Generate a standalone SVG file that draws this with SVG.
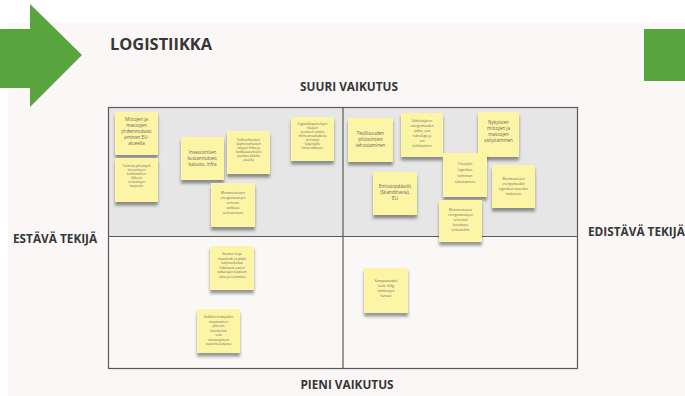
<svg xmlns="http://www.w3.org/2000/svg" width="685" height="396" viewBox="0 0 685 396">
<defs>
<filter id="sh" x="-20%" y="-20%" width="140%" height="150%">
<feDropShadow dx="0" dy="3.5" stdDeviation="1.8" flood-color="#000" flood-opacity="0.4"/>
</filter>
</defs>
<style>
.h{font-family:"Open Sans","Liberation Sans",sans-serif;font-weight:700;fill:#363636}
.n rect{fill:#fdf5a6;filter:url(#sh)}
.n text{font-family:"Open Sans","Liberation Sans",sans-serif;fill:#666;text-anchor:middle}
.m{font-size:4.6px}
.s{font-size:3.1px}
.g{stroke:#5a5a5a;stroke-width:1.2;fill:none}
</style>
<rect width="685" height="396" fill="#ffffff"/>
<rect x="8" y="23" width="677" height="373" fill="#faf7f6"/>
<g id="arrow-left">
<polygon points="0,29 30,29 30,4 82,55 30,107 30,88 0,88" fill="#58a53e"/>
</g>
<g id="arrow-right">
<rect x="644" y="29" width="41" height="52" fill="#58a53e"/>
</g>
<text class="h" x="110" y="50" font-size="16.4">LOGISTIIKKA</text>
<text class="h" x="349" y="91" font-size="11.8" text-anchor="middle">SUURI VAIKUTUS</text>
<text class="h" x="347" y="389" font-size="11.8" text-anchor="middle">PIENI VAIKUTUS</text>
<text class="h" x="13" y="243" font-size="11.8">ESTÄVÄ TEKIJÄ</text>
<text class="h" x="588" y="236" font-size="11.8">EDISTÄVÄ TEKIJÄ</text>
<g id="grid">
<rect x="108.5" y="107.5" width="469" height="129" fill="#e6e6e6"/>
<rect x="108.5" y="236.5" width="469" height="132" fill="#faf8f7"/>
<rect class="g" x="108.5" y="107.5" width="469" height="261"/>
<line class="g" x1="343" y1="107.5" x2="343" y2="368.5"/>
<line class="g" x1="108.5" y1="236.5" x2="577.5" y2="236.5"/>
</g>
<g id="note1" class="n" transform="translate(115,112)"><rect width="43" height="43"/>
<text class="m" x="21.5" y="9">Mittojen ja</text><text class="m" x="21.5" y="15">massojen</text><text class="m" x="21.5" y="21">yhdenmukaist</text><text class="m" x="21.5" y="27">aminen EU-</text><text class="m" x="21.5" y="33">alueella</text></g>
<g id="note2" class="n" transform="translate(115,158)"><rect width="43" height="44"/>
<text class="s" x="21.5" y="9">Toimivat yhteistyön</text><text class="s" x="21.5" y="13">tietovirtojen</text><text class="s" x="21.5" y="17">kehittäminen</text><text class="s" x="21.5" y="21">liikkeen</text><text class="s" x="21.5" y="25">verkostojen</text><text class="s" x="21.5" y="29">tarpeisiin</text></g>
<g id="note3" class="n" transform="translate(181,137)"><rect width="43" height="43"/>
<text class="m" x="21.5" y="17">Investointien</text><text class="m" x="21.5" y="23">kustannukset;</text><text class="m" x="21.5" y="29">kalusto, infra</text></g>
<g id="note4" class="n" transform="translate(227,131)"><rect width="43" height="43"/>
<text class="s" x="21.5" y="10">Vaihtoehtoisten</text><text class="s" x="21.5" y="14">käyttövoimaisten</text><text class="s" x="21.5" y="18">autojen hinta ja</text><text class="s" x="21.5" y="22">tankkausverkosto</text><text class="s" x="21.5" y="26">puuttuu kaikilta</text><text class="s" x="21.5" y="30">alueilta</text></g>
<g id="note5" class="n" transform="translate(291,117)"><rect width="43" height="44"/>
<text class="s" x="21.5" y="8">Logistiikkapalvelujen</text><text class="s" x="21.5" y="12">tilaajien</text><text class="s" x="21.5" y="16">asenteet: vastuu</text><text class="s" x="21.5" y="20">hiilineutraaliudesta</text><text class="s" x="21.5" y="24">siirretään</text><text class="s" x="21.5" y="28">kuljettajille</text><text class="s" x="21.5" y="32">hinta ratkaisee</text></g>
<g id="note6" class="n" transform="translate(211,183)"><rect width="44" height="44"/>
<text class="s" x="22" y="11">Monimuotoisten</text><text class="s" x="22" y="16">energiamuotojen</text><text class="s" x="22" y="21">verkosto</text><text class="s" x="22" y="26">tankkaus</text><text class="s" x="22" y="31">verkostoineen</text></g>
<g id="note7" class="n" transform="translate(348,118)"><rect width="45" height="44"/>
<text class="m" x="22.5" y="17">Teollisuuden</text><text class="m" x="22.5" y="23">pilotointien</text><text class="m" x="22.5" y="29">tehostaminen</text></g>
<g id="note8" class="n" transform="translate(401,113)"><rect width="42" height="44"/>
<text class="s" x="21" y="9">Sähköistyksen</text><text class="s" x="21" y="14">energiamuodon</text><text class="s" x="21" y="19">vaihto, uusi</text><text class="s" x="21" y="24">teknologia ja</text><text class="s" x="21" y="29">sen</text><text class="s" x="21" y="34">kehittäminen</text></g>
<g id="note9" class="n" transform="translate(373,172)"><rect width="44" height="43"/>
<text class="m" x="22" y="16">Emissiopäästöt</text><text class="m" x="22" y="22">(Skandinavia),</text><text class="m" x="22" y="28">EU</text></g>
<g id="note10" class="n" transform="translate(478,112)"><rect width="41" height="45"/>
<text class="m" x="20.5" y="12">Nykyisten</text><text class="m" x="20.5" y="18">mittojen ja</text><text class="m" x="20.5" y="24">massojen</text><text class="m" x="20.5" y="30">säilyttäminen</text></g>
<g id="note11" class="n" transform="translate(443,153)"><rect width="44" height="44"/>
<text class="s" x="22" y="12">Tekoälyllä</text><text class="s" x="22" y="18">logistiikan</text><text class="s" x="22" y="24">toiminnan</text><text class="s" x="22" y="30">tehostaminen</text></g>
<g id="note12" class="n" transform="translate(492,165)"><rect width="43" height="43"/>
<text class="s" x="21.5" y="15">Monimuotoiset</text><text class="s" x="21.5" y="20">energiamuodot</text><text class="s" x="21.5" y="25">logistiikan tarpeiden</text><text class="s" x="21.5" y="30">mukaisesti</text></g>
<g id="note13" class="n" transform="translate(439,200)"><rect width="43" height="42"/>
<text class="s" x="21.5" y="11">Monimuotoisen</text><text class="s" x="21.5" y="16">energiamuotojen</text><text class="s" x="21.5" y="21">verkoston</text><text class="s" x="21.5" y="26">kasvattava</text><text class="s" x="21.5" y="31">verkostoihin</text></g>
<g id="note14" class="n" transform="translate(210,246)"><rect width="44" height="44"/>
<text class="s" x="22" y="9">Suomen laaja</text><text class="s" x="22" y="13.5">maantiede ja pitkät</text><text class="s" x="22" y="18">kuljetusmatkat</text><text class="s" x="22" y="22.5">hidastavat uusien</text><text class="s" x="22" y="27">ratkaisujen käyttöön</text><text class="s" x="22" y="31.5">ottoa ja leviämistä</text></g>
<g id="note15" class="n" transform="translate(197,309)"><rect width="43" height="44"/>
<text class="s" x="21.5" y="9">Kaikkien toimijoiden</text><text class="s" x="21.5" y="13.5">sitoutuminen</text><text class="s" x="21.5" y="18">yhteisiin</text><text class="s" x="21.5" y="22.5">tavoitteisiin</text><text class="s" x="21.5" y="27">sekä</text><text class="s" x="21.5" y="31.5">vastuunjakoon</text><text class="s" x="21.5" y="36">tuotanto-ketjussa</text></g>
<g id="note16" class="n" transform="translate(364,268)"><rect width="44" height="45"/>
<text class="s" x="22" y="14">Kumppanuudet</text><text class="s" x="22" y="19">(esim. hiilijy</text><text class="s" x="22" y="24">valmistajien</text><text class="s" x="22" y="29">kanssa)</text></g>
</svg>
